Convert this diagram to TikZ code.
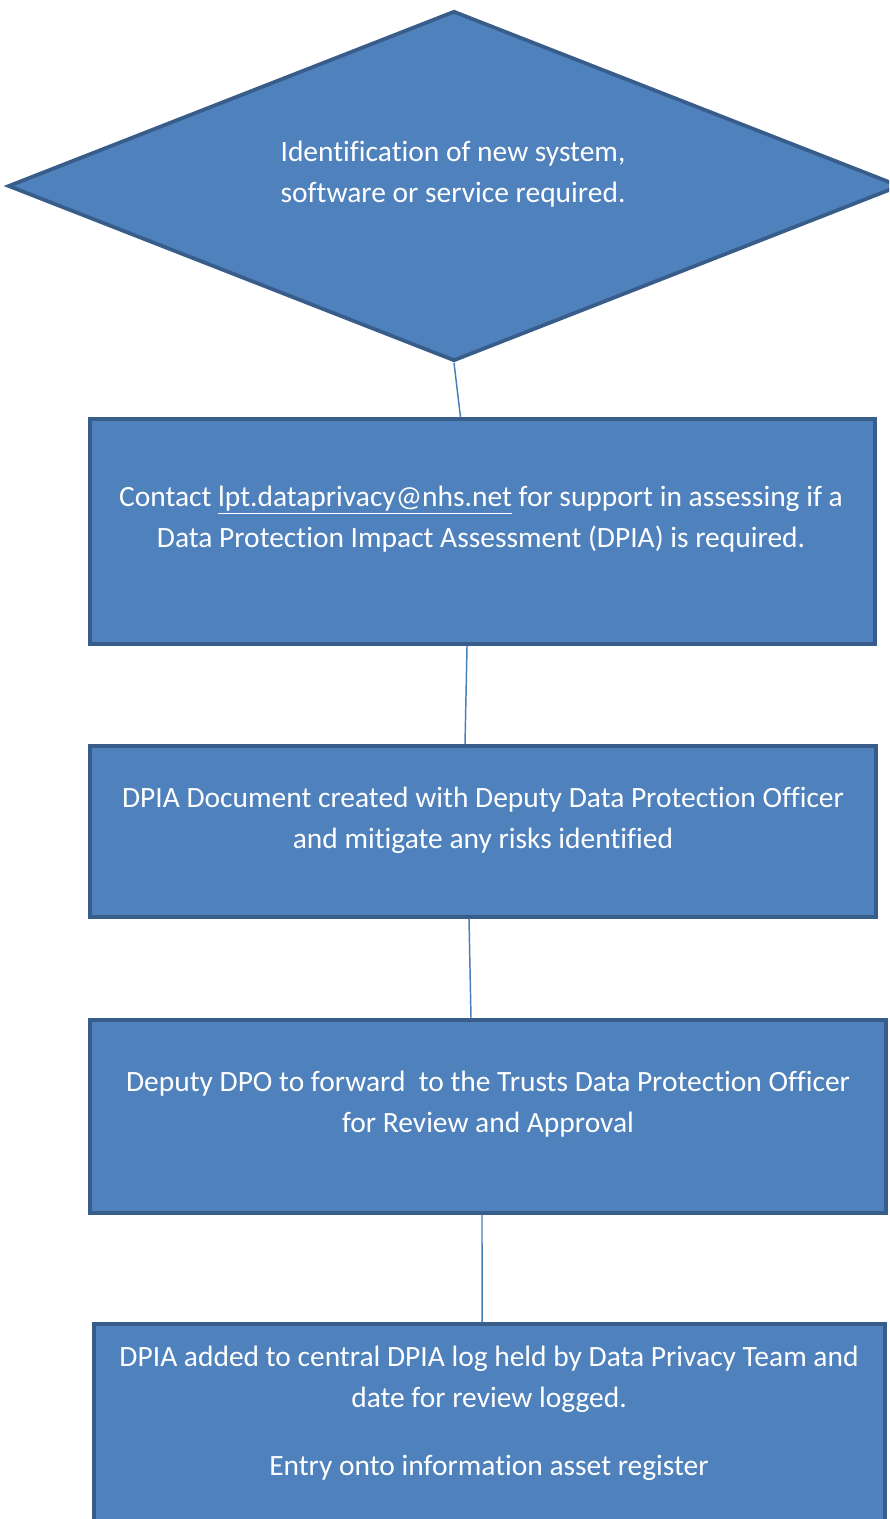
\documentclass[tikz,border=0pt]{standalone}
\usepackage{fontspec}
\setmainfont{Carlito}[Ligatures={NoCommon}]
\usetikzlibrary{shapes.geometric}
\definecolor{boxfill}{HTML}{4F81BD}
\definecolor{boxline}{HTML}{385D8A}
\definecolor{linkline}{HTML}{4A7EBB}
\tikzset{
  flowbox/.style={rectangle, draw=boxline, fill=boxfill, line width=2.6pt, inner sep=0pt},
  decision/.style={diamond, draw=boxline, fill=boxfill, line width=2.8pt, inner sep=0pt},
  boxtext/.style={text=white, align=center, inner sep=0pt,
    font=\fontsize{22.1pt}{30.75pt}\selectfont},
  link/.style={draw=linkline, line width=1.1pt}
}
\begin{document}
\begin{tikzpicture}[x=0.75pt, y=-0.75pt]
  \clip (0,0) rectangle (889,1519);
  \fill[white] (0,0) rectangle (889,1519);

  % decision and process boxes
  \node[decision, minimum width=669pt, minimum height=262.5pt] (dia) at (454,186) {};
  \node[flowbox, minimum width=588.75pt, minimum height=168.75pt] (b1) at (482.5,531.5) {};
  \node[flowbox, minimum width=589.5pt, minimum height=128.25pt] (b2) at (483,831.5) {};
  \node[flowbox, minimum width=597pt, minimum height=144.75pt] (b3) at (488,1116.5) {};
  \node[flowbox, minimum width=593.25pt, minimum height=165pt] (b4) at (489.5,1434) {};

  % connectors between consecutive steps
  \draw[link] (dia.south) -- ([xshift=-16.5pt]b1.north);
  \draw[link] ([xshift=-11.6pt]b1.south) -- ([xshift=-13.5pt]b2.north);
  \draw[link] ([xshift=-10.5pt]b2.south) -- ([xshift=-12.75pt]b3.north);
  \draw[link] ([xshift=-4.5pt]b3.south) -- ([xshift=-5.6pt]b4.north);

  % labels
  \node[boxtext] (t0) at (453,174) {Identification of new system,\\software or service required.};
  \node[boxtext] (t1) at (481,519) {Contact \underline{lpt.dataprivacy@nhs.net} for support in assessing if a\\Data Protection Impact Assessment (DPIA) is required.};
  \node[boxtext] (t2) at (483,820) {DPIA Document created with Deputy Data Protection Officer\\and mitigate any risks identified};
  \node[boxtext] (t3) at (488,1104) {Deputy DPO to forward\ \ to the Trusts Data Protection Officer\\for Review and Approval};
  \node[boxtext] (t4) at (489,1413) {DPIA added to central DPIA log held by Data Privacy Team and\\date for review logged.\\[20pt]Entry onto information asset register};
\end{tikzpicture}
\end{document}
